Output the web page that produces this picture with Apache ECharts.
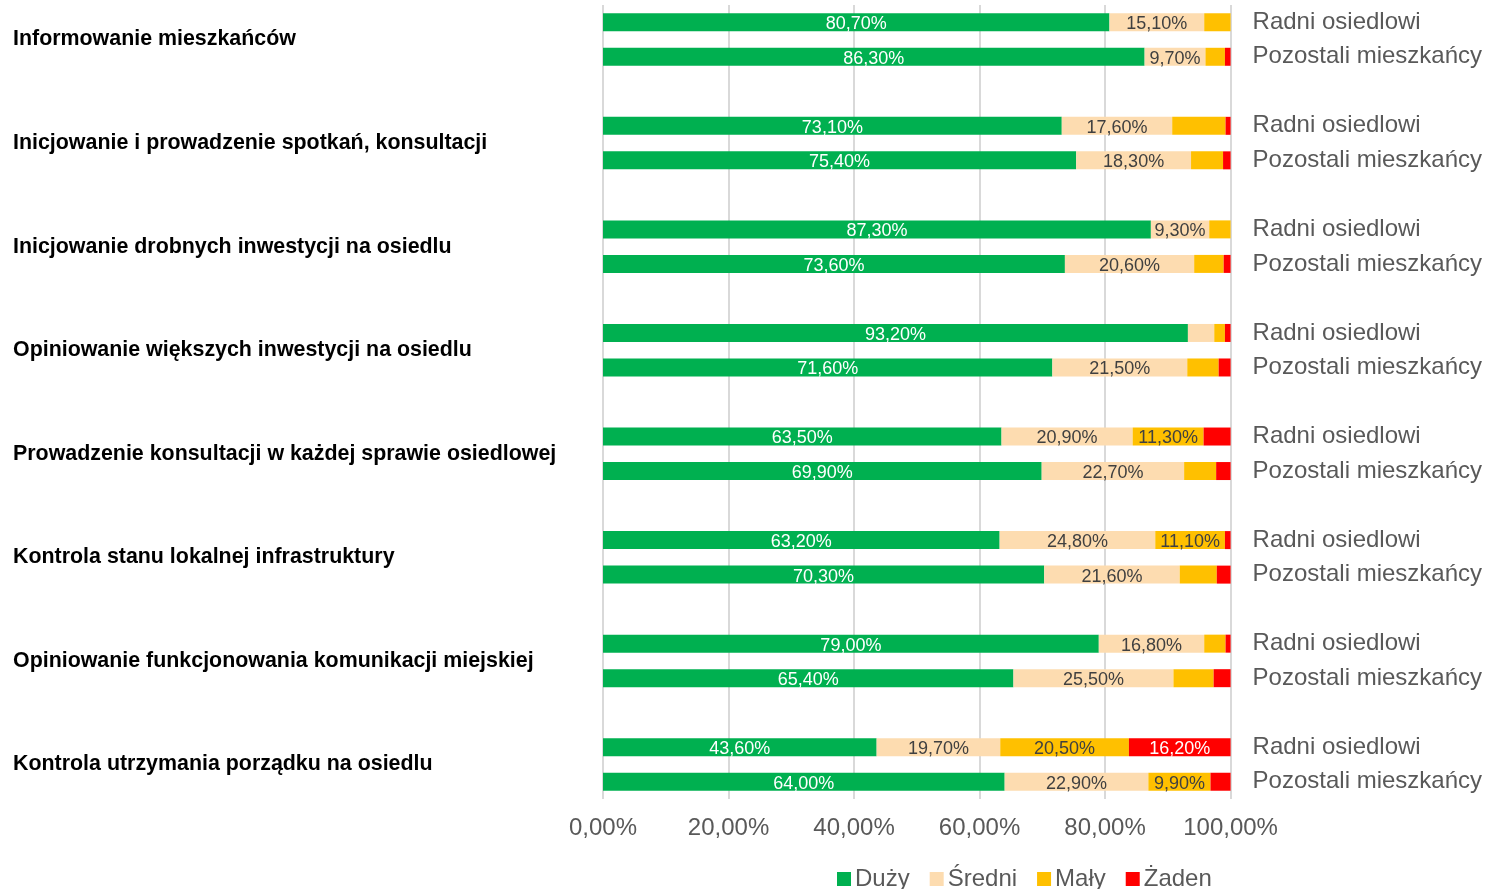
<!DOCTYPE html>
<html lang="pl">
<head>
    <meta charset="UTF-8">
    <title>Rola rad osiedli</title>
    <script src="https://cdn.jsdelivr.net/npm/echarts@6/dist/echarts.min.js"></script>
</head>
<body style="margin:0;background:#fff">
<div id="main" style="width:1485px;height:889px"></div>
<script>
    // grupy (po dwa paski: Radni, Pozostali)
    var groups = ['Informowanie mieszkańców', 'Inicjowanie i prowadzenie spotkań, konsultacji',
        'Inicjowanie drobnych inwestycji na osiedlu', 'Opiniowanie większych inwestycji na osiedlu',
        'Prowadzenie konsultacji w każdej sprawie osiedlowej', 'Kontrola stanu lokalnej infrastruktury',
        'Opiniowanie funkcjonowania komunikacji miejskiej', 'Kontrola utrzymania porządku na osiedlu'];
    var who = ['Radni osiedlowi', 'Pozostali mieszkańcy'];
    var seriesNames = ['Duży', 'Średni', 'Mały', 'Żaden'];

    // wartości: kolejno Radni, Pozostali dla każdej grupy
    var duzy   = [80.7, 86.3, 73.1, 75.4, 87.3, 73.6, 93.2, 71.6, 63.5, 69.9, 63.2, 70.3, 79.0, 65.4, 43.6, 64.0];
    var sredni = [15.1, 9.7, 17.6, 18.3, 9.3, 20.6, 4.2, 21.5, 20.9, 22.7, 24.8, 21.6, 16.8, 25.5, 19.7, 22.9];
    var maly   = [4.2, 3.1, 8.5, 5.1, 3.4, 4.7, 1.7, 5.0, 11.3, 5.1, 11.1, 5.9, 3.4, 6.4, 20.5, 9.9];
    var zaden  = [0.0, 0.9, 0.8, 1.2, 0.0, 1.1, 0.9, 1.9, 4.3, 2.3, 0.9, 2.2, 0.8, 2.7, 16.2, 3.2];
    var xTicks = [0, 20, 40, 60, 80, 100];

    var colors = ['#00B050', '#FDDCB0', '#FFC000', '#FF0000'];
    var labelColors = ['#ffffff', '#404040', '#404040', '#ffffff'];

    // sloty osi: 2 paski na grupę + pusty slot pomiędzy grupami
    var slots = [];
    var slotIdx = [];
    groups.forEach(function (g, i) {
        if (i > 0) { slots.push(''); }
        slotIdx.push(slots.length); slots.push(who[0] + '|' + i);
        slotIdx.push(slots.length); slots.push(who[1] + '|' + i);
    });
    // lewa oś: etykiety grup na granicy między dwoma paskami
    var groupAxis = [];
    for (var k = 0; k <= slots.length; k++) groupAxis.push('');
    groups.forEach(function (g, i) { groupAxis[i * 3 + 1] = g; });

    function fmt(v) {
        return v.toFixed(2).replace('.', ',') + '%';
    }

    var values = [duzy, sredni, maly, zaden];
    var series = values.map(function (arr, s) {
        var data = slots.map(function () { return '-'; });
        arr.forEach(function (v, j) { data[slotIdx[j]] = v; });
        return {
            name: seriesNames[s],
            type: 'bar',
            stack: 'total',
            barWidth: 18,
            yAxisIndex: 0,
            itemStyle: {color: colors[s]},
            label: {
                show: true,
                position: 'inside',
                offset: [0, 2],
                color: labelColors[s],
                fontSize: 18,
                fontFamily: 'Liberation Sans',
                formatter: function (p) { return p.value >= 9 ? fmt(p.value) : ''; }
            },
            data: data
        };
    });

    var myChart = echarts.init(document.getElementById('main'));
    myChart.setOption({
        animation: false,
        textStyle: {fontFamily: 'Liberation Sans'},
        grid: {left: 603, right: 254, top: 5, bottom: 90, containLabel: false},
        legend: {
            data: seriesNames,
            left: 832,
            top: 862,
            itemWidth: 14,
            itemHeight: 14,
            itemGap: 20,
            icon: 'rect',
            textStyle: {fontSize: 24, color: '#595959', padding: [0, 0, 0, -1]}
        },
        xAxis: {
            type: 'value',
            min: xTicks[0],
            max: xTicks[xTicks.length - 1],
            interval: xTicks[1] - xTicks[0],
            axisLine: {show: false},
            axisTick: {show: false},
            splitLine: {show: true, lineStyle: {color: '#d9d9d9', width: 2}},
            axisLabel: {fontSize: 24, color: '#595959', margin: 17, formatter: fmt}
        },
        yAxis: [{
            type: 'category',
            data: slots,
            inverse: true,
            position: 'right',
            axisLine: {show: false},
            axisTick: {show: false},
            axisLabel: {
                fontSize: 24, color: '#595959', margin: 22, align: 'left',
                formatter: function (v) { return v.split('|')[0]; }
            }
        }, {
            type: 'category',
            data: groupAxis,
            inverse: true,
            boundaryGap: false,
            position: 'left',
            axisLine: {show: false},
            axisTick: {show: false},
            axisLabel: {
                interval: 0, fontSize: 21.4, fontWeight: 'bold', color: '#000000',
                margin: 590, align: 'left', padding: [5, 0, 0, 0]
            }
        }],
        series: series
    });
</script>
</body>
</html>
